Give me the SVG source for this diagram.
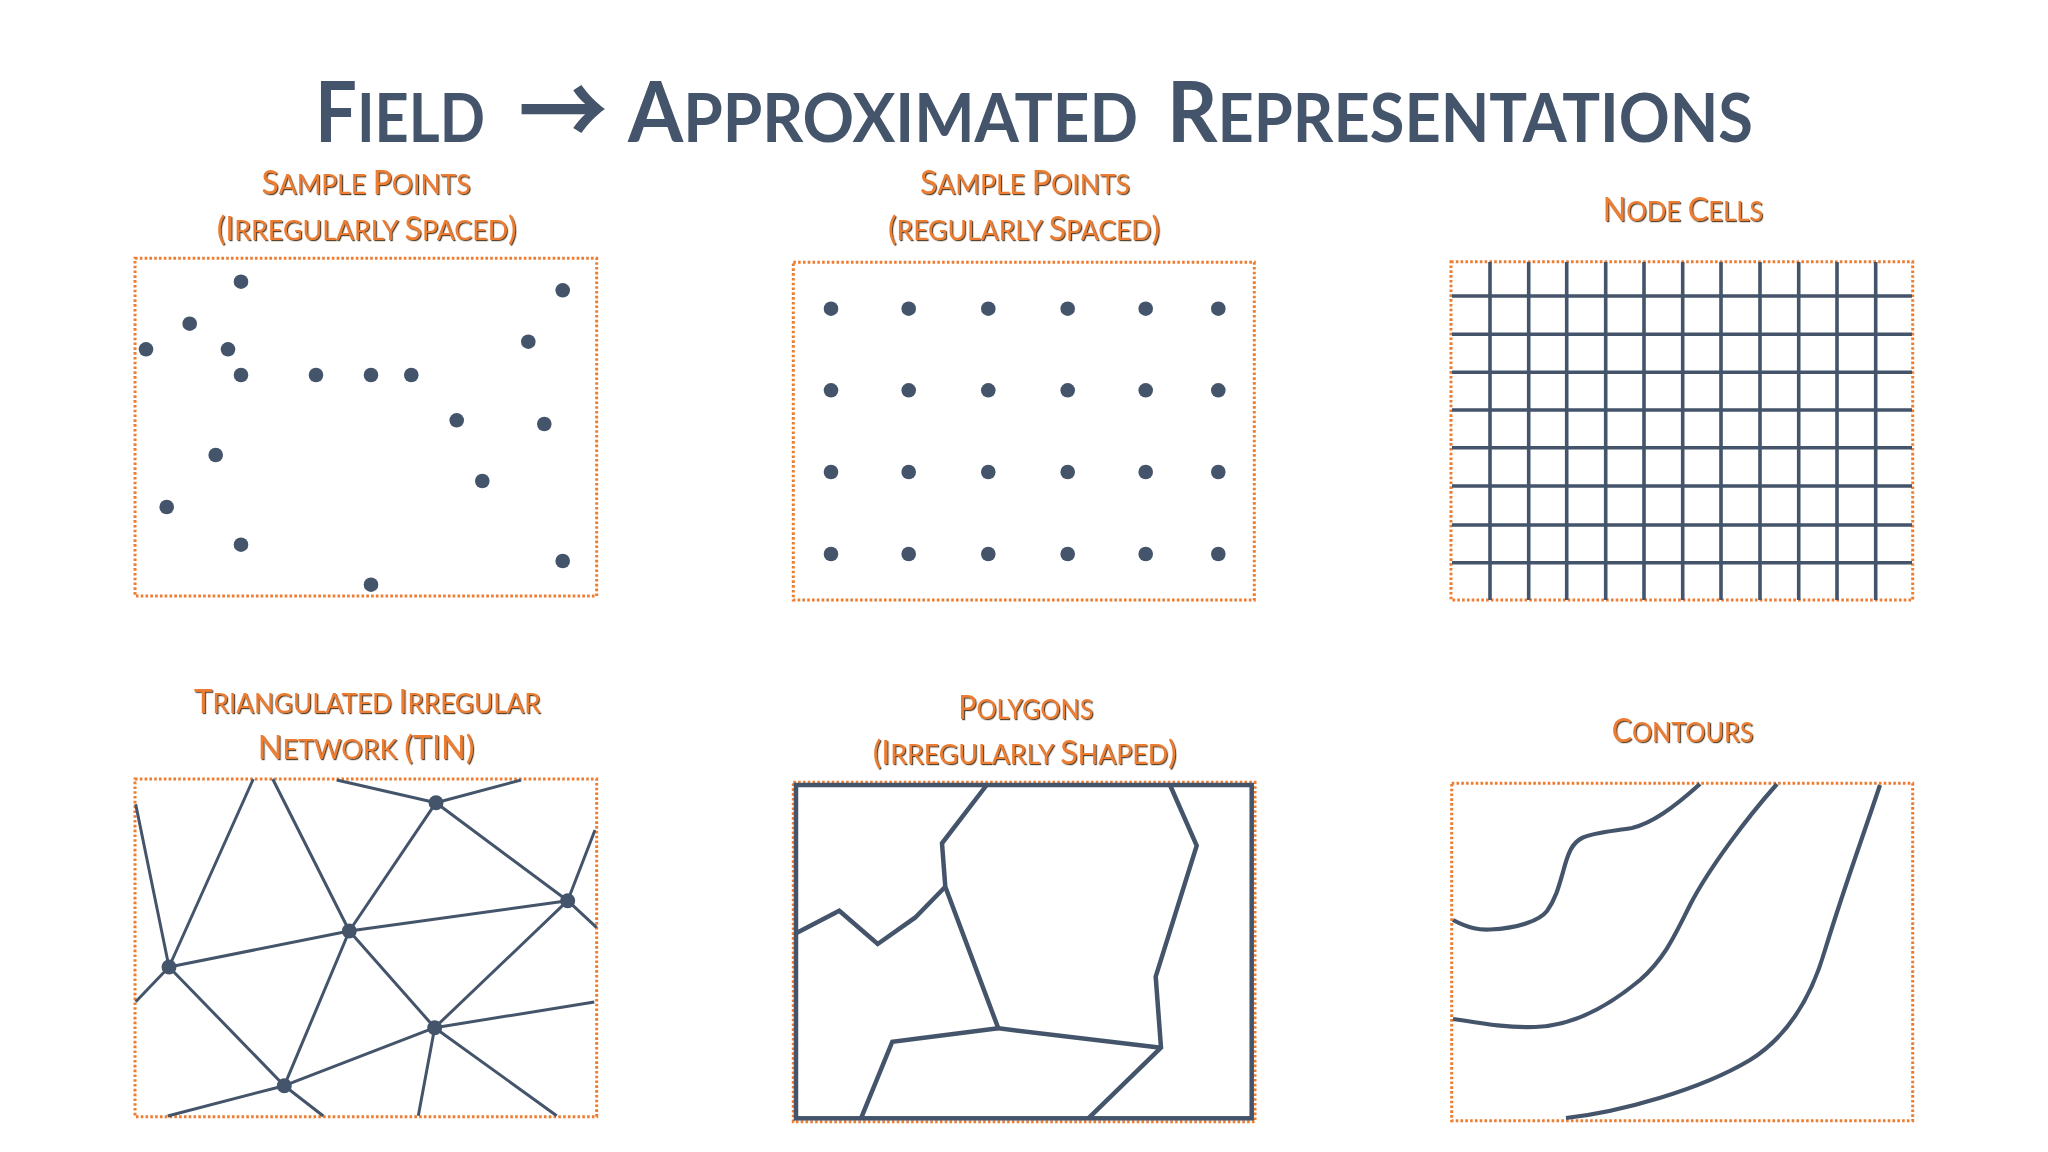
<svg xmlns="http://www.w3.org/2000/svg" width="2048" height="1152" viewBox="0 0 2048 1152">
<defs>
<style>
.title{font-family:Lato,"Open Sans","Liberation Sans",sans-serif;font-weight:700;fill:#44546A}
.arr{font-family:"Noto Sans CJK SC","Noto Sans","DejaVu Sans",sans-serif;font-weight:700}
.lbl{font-family:Lato,"Open Sans","Liberation Sans",sans-serif;font-weight:400;fill:#ED7D31;filter:url(#sh)}
.frame{fill:none;stroke:#ED7D31;stroke-width:3;stroke-dasharray:2.6 2.2}
.dot{fill:#44546A}
.ln{fill:none;stroke:#44546A;stroke-width:3;stroke-linecap:butt}
.grid{fill:none;stroke:#44546A;stroke-width:3.6}
.poly{fill:none;stroke:#44546A;stroke-width:4.5;stroke-linejoin:miter}
.cont{fill:none;stroke:#44546A;stroke-width:4.2;stroke-linecap:butt}
</style>
<filter id="sh" x="-5%" y="-20%" width="110%" height="140%">
<feDropShadow dx="1.2" dy="1.2" stdDeviation="0.5" flood-color="#3a2510" flood-opacity="0.85"/>
</filter>
</defs>
<rect width="2048" height="1152" fill="#FFFFFF"/>

<g id="title">
<text class="title" y="141.7"><tspan x="315" textLength="170" lengthAdjust="spacingAndGlyphs"><tspan font-size="84">F</tspan><tspan font-size="67.5">IELD</tspan></tspan><tspan font-size="40"> </tspan><tspan class="arr" x="518" y="147" font-size="100" textLength="90" lengthAdjust="spacingAndGlyphs">→</tspan><tspan font-size="40"> </tspan><tspan x="628" y="141.7" textLength="510" lengthAdjust="spacingAndGlyphs"><tspan font-size="84">A</tspan><tspan font-size="67.5">PPROXIMATED</tspan></tspan><tspan font-size="40"> </tspan><tspan x="1167" textLength="586" lengthAdjust="spacingAndGlyphs"><tspan font-size="84">R</tspan><tspan font-size="67.5">EPRESENTATIONS</tspan></tspan></text>
</g>

<g id="panel-irregular-points">
<text class="lbl" x="366" y="194" text-anchor="middle" textLength="209" lengthAdjust="spacingAndGlyphs"><tspan font-size="32.5">S</tspan><tspan font-size="27">AMPLE </tspan><tspan font-size="32.5">P</tspan><tspan font-size="27">OINTS</tspan></text>
<text class="lbl" x="366.7" y="240" text-anchor="middle" textLength="300" lengthAdjust="spacingAndGlyphs"><tspan font-size="32.5">(I</tspan><tspan font-size="27">RREGULARLY </tspan><tspan font-size="32.5">S</tspan><tspan font-size="27">PACED</tspan><tspan font-size="32.5">)</tspan></text>
<rect class="frame" x="135" y="258.3" width="461.7" height="337.7"/>
<circle class="dot" cx="241" cy="281.7" r="7.3"/>
<circle class="dot" cx="562.7" cy="290.3" r="7.3"/>
<circle class="dot" cx="189.7" cy="323.7" r="7.3"/>
<circle class="dot" cx="146" cy="349.3" r="7.3"/>
<circle class="dot" cx="228" cy="349.3" r="7.3"/>
<circle class="dot" cx="528.3" cy="341.7" r="7.3"/>
<circle class="dot" cx="241" cy="375" r="7.3"/>
<circle class="dot" cx="316" cy="375" r="7.3"/>
<circle class="dot" cx="371" cy="375" r="7.3"/>
<circle class="dot" cx="411.3" cy="375" r="7.3"/>
<circle class="dot" cx="456.7" cy="420.3" r="7.3"/>
<circle class="dot" cx="544.3" cy="424" r="7.3"/>
<circle class="dot" cx="215.7" cy="455" r="7.3"/>
<circle class="dot" cx="482.3" cy="481" r="7.3"/>
<circle class="dot" cx="166.7" cy="507" r="7.3"/>
<circle class="dot" cx="241" cy="544.7" r="7.3"/>
<circle class="dot" cx="562.7" cy="561" r="7.3"/>
<circle class="dot" cx="371" cy="584.7" r="7.3"/>
</g>

<g id="panel-regular-points">
<text class="lbl" x="1025" y="194" text-anchor="middle" textLength="210" lengthAdjust="spacingAndGlyphs"><tspan font-size="32.5">S</tspan><tspan font-size="27">AMPLE </tspan><tspan font-size="32.5">P</tspan><tspan font-size="27">OINTS</tspan></text>
<text class="lbl" x="1024" y="240" text-anchor="middle" textLength="272" lengthAdjust="spacingAndGlyphs"><tspan font-size="32.5">(</tspan><tspan font-size="27">REGULARLY </tspan><tspan font-size="32.5">S</tspan><tspan font-size="27">PACED</tspan><tspan font-size="32.5">)</tspan></text>
<rect class="frame" x="793.3" y="262.3" width="461" height="337.7"/>
<g id="reg-dots">
<circle class="dot" cx="831" cy="308.7" r="7.3"/><circle class="dot" cx="908.7" cy="308.7" r="7.3"/><circle class="dot" cx="988.3" cy="308.7" r="7.3"/><circle class="dot" cx="1067.7" cy="308.7" r="7.3"/><circle class="dot" cx="1145.7" cy="308.7" r="7.3"/><circle class="dot" cx="1218.3" cy="308.7" r="7.3"/>
<circle class="dot" cx="831" cy="390.3" r="7.3"/><circle class="dot" cx="908.7" cy="390.3" r="7.3"/><circle class="dot" cx="988.3" cy="390.3" r="7.3"/><circle class="dot" cx="1067.7" cy="390.3" r="7.3"/><circle class="dot" cx="1145.7" cy="390.3" r="7.3"/><circle class="dot" cx="1218.3" cy="390.3" r="7.3"/>
<circle class="dot" cx="831" cy="472" r="7.3"/><circle class="dot" cx="908.7" cy="472" r="7.3"/><circle class="dot" cx="988.3" cy="472" r="7.3"/><circle class="dot" cx="1067.7" cy="472" r="7.3"/><circle class="dot" cx="1145.7" cy="472" r="7.3"/><circle class="dot" cx="1218.3" cy="472" r="7.3"/>
<circle class="dot" cx="831" cy="554" r="7.3"/><circle class="dot" cx="908.7" cy="554" r="7.3"/><circle class="dot" cx="988.3" cy="554" r="7.3"/><circle class="dot" cx="1067.7" cy="554" r="7.3"/><circle class="dot" cx="1145.7" cy="554" r="7.3"/><circle class="dot" cx="1218.3" cy="554" r="7.3"/>
</g>
</g>

<g id="panel-node-cells">
<text class="lbl" x="1683" y="220.7" text-anchor="middle" textLength="160.6" lengthAdjust="spacingAndGlyphs"><tspan font-size="32.5">N</tspan><tspan font-size="27">ODE </tspan><tspan font-size="32.5">C</tspan><tspan font-size="27">ELLS</tspan></text>
<rect class="frame" x="1451" y="261.7" width="461.7" height="338.3"/>
<path class="grid" d="M1490,262V600M1528.7,262V600M1566.7,262V600M1605.7,262V600M1644,262V600M1682.7,262V600M1721,262V600M1760,262V600M1798.7,262V600M1837,262V600M1875.7,262V600"/>
<path class="grid" d="M1452,296H1912M1452,334.3H1912M1452,372.3H1912M1452,410H1912M1452,447.7H1912M1452,486H1912M1452,525H1912M1452,562.7H1912"/>
</g>

<g id="panel-tin">
<text class="lbl" x="367.3" y="713.3" text-anchor="middle" textLength="346.7" lengthAdjust="spacingAndGlyphs"><tspan font-size="32.5">T</tspan><tspan font-size="27">RIANGULATED </tspan><tspan font-size="32.5">I</tspan><tspan font-size="27">RREGULAR</tspan></text>
<text class="lbl" x="366" y="759.3" text-anchor="middle" textLength="216.6" lengthAdjust="spacingAndGlyphs"><tspan font-size="32.5">N</tspan><tspan font-size="27">ETWORK </tspan><tspan font-size="32.5">(TIN)</tspan></text>
<rect class="frame" x="135" y="779" width="461.7" height="337.7"/>
<path class="ln" d="M135.7,804.3L169,967M253.3,779L169,967M272.7,779L349.3,931M336.7,780L436,802.7M521,780L436,802.7M436,802.7L349.3,931M436,802.7L567.7,900.7M595,830L567.7,900.7M567.7,900.7L596.7,927.7M169,967L349.3,931M349.3,931L567.7,900.7M169,967L135.7,1001.7M169,967L284.3,1085.7M349.3,931L284.3,1085.7M349.3,931L434.7,1027.7M567.7,900.7L434.7,1027.7M434.7,1027.7L594.3,1002M434.7,1027.7L418.3,1115.7M434.7,1027.7L556.7,1115.7M284.3,1085.7L434.7,1027.7M284.3,1085.7L167.7,1116M284.3,1085.7L323.3,1116"/>
<circle class="dot" cx="169" cy="967" r="7.5"/>
<circle class="dot" cx="349.3" cy="931" r="7.5"/>
<circle class="dot" cx="436" cy="802.7" r="7.5"/>
<circle class="dot" cx="567.7" cy="900.7" r="7.5"/>
<circle class="dot" cx="434.7" cy="1027.7" r="7.5"/>
<circle class="dot" cx="284.3" cy="1085.7" r="7.5"/>
</g>

<g id="panel-polygons">
<text class="lbl" x="1025.8" y="719.3" text-anchor="middle" textLength="135" lengthAdjust="spacingAndGlyphs"><tspan font-size="32.5">P</tspan><tspan font-size="27">OLYGONS</tspan></text>
<text class="lbl" x="1024.7" y="764" text-anchor="middle" textLength="304" lengthAdjust="spacingAndGlyphs"><tspan font-size="32.5">(I</tspan><tspan font-size="27">RREGULARLY </tspan><tspan font-size="32.5">S</tspan><tspan font-size="27">HAPED</tspan><tspan font-size="32.5">)</tspan></text>
<rect class="frame" x="793.3" y="782.3" width="461.7" height="339.4"/>
<rect class="poly" x="796" y="785" width="455.7" height="333.3"/>
<polyline class="poly" points="986.7,785 942,843.3 945.3,886.7 998.3,1028.3 1161,1047.7"/>
<polyline class="poly" points="1170,785 1196.7,845.7 1155.7,976.7 1161,1047.7 1088.3,1118.3"/>
<polyline class="poly" points="796,933.3 839.3,910.7 877.7,944 915,917.7 945.3,886.7"/>
<polyline class="poly" points="998.3,1028.3 892.3,1041.7 861,1118.3"/>
</g>

<g id="panel-contours">
<text class="lbl" x="1682.5" y="741.7" text-anchor="middle" textLength="141.6" lengthAdjust="spacingAndGlyphs"><tspan font-size="32.5">C</tspan><tspan font-size="27">ONTOURS</tspan></text>
<rect class="frame" x="1451.7" y="783.3" width="461" height="337.4"/>
<path class="cont" d="M1453,920 C1470,929 1480,930 1490,929.5 C1520,928 1540,920 1547,911 C1556,898 1559,886 1563,872 C1568,853 1572,843 1582,838 C1595,832 1615,831 1632,828 C1652,823 1672,809 1700,784"/>
<path class="cont" d="M1453,1019 C1485,1024 1510,1028 1535,1027 C1575,1026 1610,1005 1640,980 C1665,958 1675,935 1690,905 C1708,870 1745,820 1777,784"/>
<path class="cont" d="M1566,1118 C1620,1112 1700,1090 1750,1060 C1790,1035 1812,995 1825,950 C1845,885 1860,845 1880,785"/>
</g>
</svg>
